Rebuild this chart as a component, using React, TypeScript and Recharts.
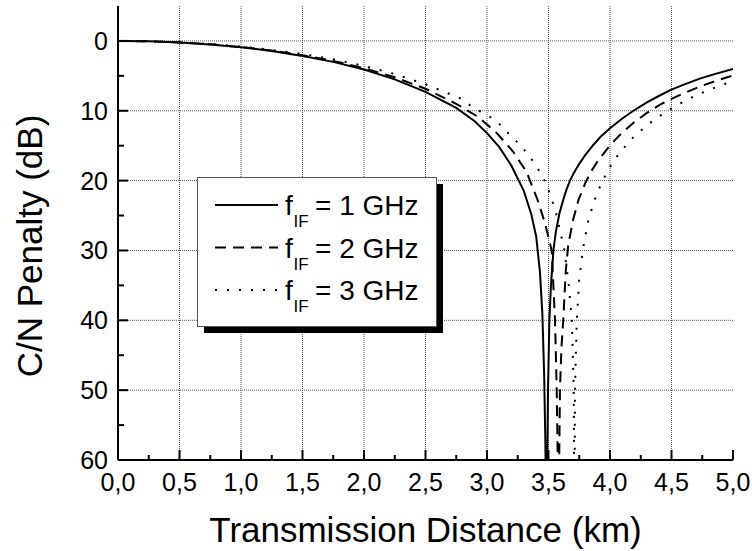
import { CartesianGrid, Legend, Line, LineChart, XAxis, YAxis } from "recharts";

const FONT = '"Liberation Sans", Arial, Helvetica, sans-serif';

// f_IF = 1 GHz
const km1 = [0, 0.25, 0.5, 0.75, 1.0, 1.25, 1.5, 1.75, 2.0, 2.25, 2.5, 2.75, 2.9, 3.0, 3.1, 3.2, 3.3, 3.36, 3.4, 3.43, 3.45, 3.465, 3.475, 3.483, 3.49, 3.496, 3.507, 3.52, 3.54, 3.56, 3.59, 3.626, 3.65, 3.675, 3.7, 3.75, 3.8, 3.864, 3.93, 4.0, 4.1, 4.19, 4.3, 4.4, 4.49, 4.6, 4.73, 4.85, 5.0];
const pen1 = [0, 0.05, 0.22, 0.5, 0.9, 1.45, 2.15, 3.0, 4.1, 5.5, 7.3, 9.6, 11.5, 13.2, 15.2, 17.9, 21.5, 24.8, 28, 33, 39, 48, 58, 75, 60, 50, 40, 35, 30, 27.3, 24.6, 22.4, 21.1, 20, 19.1, 17.6, 16.3, 14.9, 13.6, 12.5, 11.1, 10, 8.8, 7.85, 7.05, 6.25, 5.4, 4.75, 4.0];

// f_IF = 2 GHz
const km2 = [0, 0.25, 0.5, 0.75, 1.0, 1.25, 1.5, 1.75, 2.0, 2.25, 2.5, 2.75, 2.93, 3.08, 3.21, 3.32, 3.41, 3.47, 3.526, 3.553, 3.567, 3.575, 3.581, 3.587, 3.593, 3.605, 3.62, 3.64, 3.66, 3.7, 3.745, 3.8, 3.85, 3.9, 4.0, 4.1, 4.2, 4.3, 4.4, 4.5, 4.6, 4.75, 4.9, 5.0];
const pen2 = [0, 0.05, 0.21, 0.48, 0.87, 1.38, 2.04, 2.86, 3.9, 5.2, 6.85, 9.0, 10.9, 13.2, 15.8, 18.7, 22.7, 26, 30, 40, 50, 60, 75, 60, 50, 44, 40, 33, 29.3, 25.6, 22.7, 20.3, 18.6, 17.2, 14.95, 13.1, 11.6, 10.3, 9.2, 8.3, 7.5, 6.4, 5.5, 4.95];

// f_IF = 3 GHz
const km3 = [0, 0.25, 0.5, 0.75, 1.0, 1.25, 1.5, 1.75, 2.0, 2.25, 2.5, 2.794, 2.876, 3.0, 3.08, 3.16, 3.255, 3.336, 3.404, 3.458, 3.5, 3.56, 3.63, 3.665, 3.69, 3.705, 3.708, 3.711, 3.713, 3.715, 3.73, 3.75, 3.78, 3.82, 3.864, 3.9, 3.94, 4.0, 4.07, 4.135, 4.2, 4.325, 4.42, 4.515, 4.6, 4.705, 4.8, 4.908, 5.0];
const pen3 = [0, 0.05, 0.2, 0.45, 0.8, 1.28, 1.88, 2.62, 3.58, 4.74, 6.2, 8.3, 9.4, 10.6, 11.5, 13, 14.65, 16.3, 18, 19.6, 21.3, 24.5, 30, 35, 40, 50, 60, 75, 60, 50, 40, 34, 29.8, 26, 23.3, 21.6, 20, 18.05, 16.2, 14.85, 13.6, 11.75, 10.55, 9.5, 8.65, 7.75, 7.05, 6.3, 5.8];

const xMajor = [0, 0.5, 1, 1.5, 2, 2.5, 3, 3.5, 4, 4.5, 5];
const xMinor = [0.25, 0.75, 1.25, 1.75, 2.25, 2.75, 3.25, 3.75, 4.25, 4.75];
const yMajor = [0, 10, 20, 30, 40, 50, 60];
const yMinor = [5, 15, 25, 35, 45, 55];
const xGrid = [0.5, 1, 1.5, 2, 2.5, 3, 3.5, 4, 4.5];
const yGrid = [0, 10, 20, 30, 40, 50];

const xTicks = [...xMajor, ...xMinor].sort((a, b) => a - b);
const yTicks = [...yMajor, ...yMinor].sort((a, b) => a - b);

const toPoints = (km: number[], pen: number[]) => km.map((d, i) => ({ km: d, pen: pen[i] }));

const series = [
  { key: "1", label: "= 1 GHz", data: toPoints(km1, pen1), dash: undefined as string | undefined },
  { key: "2", label: "= 2 GHz", data: toPoints(km2, pen2), dash: "11 7" },
  { key: "3", label: "= 3 GHz", data: toPoints(km3, pen3), dash: "2 10" },
];

const fmtKm = (v: number) => v.toFixed(1).replace(".", ",");

function BottomTick({ x, y, payload }: any) {
  const major = xMajor.includes(payload.value);
  return (
    <g>
      <line x1={x} x2={x} y1={y} y2={y - (major ? 10 : 5)} stroke="#000" strokeWidth={2} />
      {major && (
        <text x={x} y={y + 31} textAnchor="middle" fontSize={25} fill="#000" fontFamily={FONT}>
          {fmtKm(payload.value)}
        </text>
      )}
    </g>
  );
}

function TopTick({ x, y, payload }: any) {
  const major = xMajor.includes(payload.value);
  return <line x1={x} x2={x} y1={y} y2={y + (major ? 10 : 5)} stroke="#000" strokeWidth={2} />;
}

function LeftTick({ x, y, payload }: any) {
  const major = yMajor.includes(payload.value);
  return (
    <g>
      <line x1={x} x2={x + (major ? 10 : 6)} y1={y} y2={y} stroke="#000" strokeWidth={2} />
      {major && (
        <text x={x - 10} y={y + 9} textAnchor="end" fontSize={25} fill="#000" fontFamily={FONT}>
          {payload.value}
        </text>
      )}
    </g>
  );
}

function RightTick({ x, y, payload }: any) {
  const major = yMajor.includes(payload.value);
  return <line x1={x} x2={x - (major ? 10 : 6)} y1={y} y2={y} stroke="#000" strokeWidth={2} />;
}

const xTitle = ({ viewBox }: any) => (
  <text
    x={viewBox.x + viewBox.width / 2}
    y={viewBox.y + 82}
    textAnchor="middle"
    fontSize={35}
    fill="#000"
    fontFamily={FONT}
  >
    Transmission Distance (km)
  </text>
);

const yTitle = ({ viewBox }: any) => {
  const cx = viewBox.x + 42;
  const cy = viewBox.y + viewBox.height / 2 + 13;
  return (
    <text
      x={cx}
      y={cy}
      transform={`rotate(-90, ${cx}, ${cy})`}
      textAnchor="middle"
      fontSize={35}
      fill="#000"
      fontFamily={FONT}
    >
      C/N Penalty (dB)
    </text>
  );
};

// Boxed legend with a solid drop shadow
const renderLegend = () => (
  <svg width={250} height={160} style={{ display: "block", overflow: "visible" }}>
    <rect x={7} y={7} width={239} height={149} fill="#000" />
    <rect x={0.5} y={0.5} width={239} height={149} fill="#fff" stroke="#555" strokeWidth={1} />
    {series.map((s, i) => {
      const base = 38 + i * 42.5;
      return (
        <g key={s.key} fontFamily={FONT} fill="#000">
          <line x1={18} x2={81} y1={base - 10} y2={base - 10} stroke="#000" strokeWidth={2} strokeDasharray={s.dash} />
          <text x={88} y={base} fontSize={28}>f</text>
          <text x={96.5} y={base + 12} fontSize={17}>IF</text>
          <text x={118} y={base} fontSize={28} style={{ whiteSpace: "pre" }}>{s.label}</text>
        </g>
      );
    })}
  </svg>
);

export default function App() {
  return (
    <div style={{ position: "absolute", left: 0, top: 0, width: 752, height: 551, background: "#fff" }}>
      <LineChart width={752} height={551} margin={{ top: 6, right: 19, bottom: 0, left: 0 }} style={{ fontFamily: FONT }}>
        <CartesianGrid
          horizontalValues={yGrid}
          verticalValues={xGrid}
          stroke="#555"
          strokeDasharray="1 1"
          strokeWidth={1}
        />
        <XAxis
          dataKey="km"
          type="number"
          domain={[0, 5]}
          ticks={xTicks}
          interval={0}
          tick={BottomTick}
          tickLine={false}
          tickSize={0}
          tickMargin={0}
          height={91}
          axisLine={{ stroke: "#000", strokeWidth: 2 }}
          label={{ content: xTitle }}
          allowDataOverflow
        />
        <XAxis
          xAxisId="top"
          orientation="top"
          dataKey="km"
          type="number"
          domain={[0, 5]}
          ticks={xTicks}
          interval={0}
          tick={TopTick}
          tickLine={false}
          tickSize={0}
          tickMargin={0}
          height={0}
          axisLine={{ stroke: "#000", strokeWidth: 2 }}
        />
        <YAxis
          type="number"
          reversed
          domain={[-5, 60]}
          ticks={yTicks}
          interval={0}
          tick={LeftTick}
          tickLine={false}
          tickSize={0}
          tickMargin={0}
          width={118}
          axisLine={{ stroke: "#000", strokeWidth: 2 }}
          label={{ content: yTitle }}
          allowDataOverflow
        />
        <YAxis
          yAxisId="right"
          orientation="right"
          type="number"
          reversed
          domain={[-5, 60]}
          ticks={yTicks}
          interval={0}
          tick={RightTick}
          tickLine={false}
          tickSize={0}
          tickMargin={0}
          width={0}
          axisLine={{ stroke: "#000", strokeWidth: 2 }}
        />
        <Legend
          layout="vertical"
          align="center"
          verticalAlign="middle"
          content={renderLegend}
          wrapperStyle={{ left: 197, top: 177, width: 250, height: 160 }}
        />
        {series.map((s) => (
          <Line
            key={s.key}
            data={s.data}
            dataKey="pen"
            name={s.label}
            type="linear"
            stroke="#000"
            strokeWidth={2}
            strokeDasharray={s.dash}
            dot={false}
            activeDot={false}
            isAnimationActive={false}
          />
        ))}
      </LineChart>
    </div>
  );
}
